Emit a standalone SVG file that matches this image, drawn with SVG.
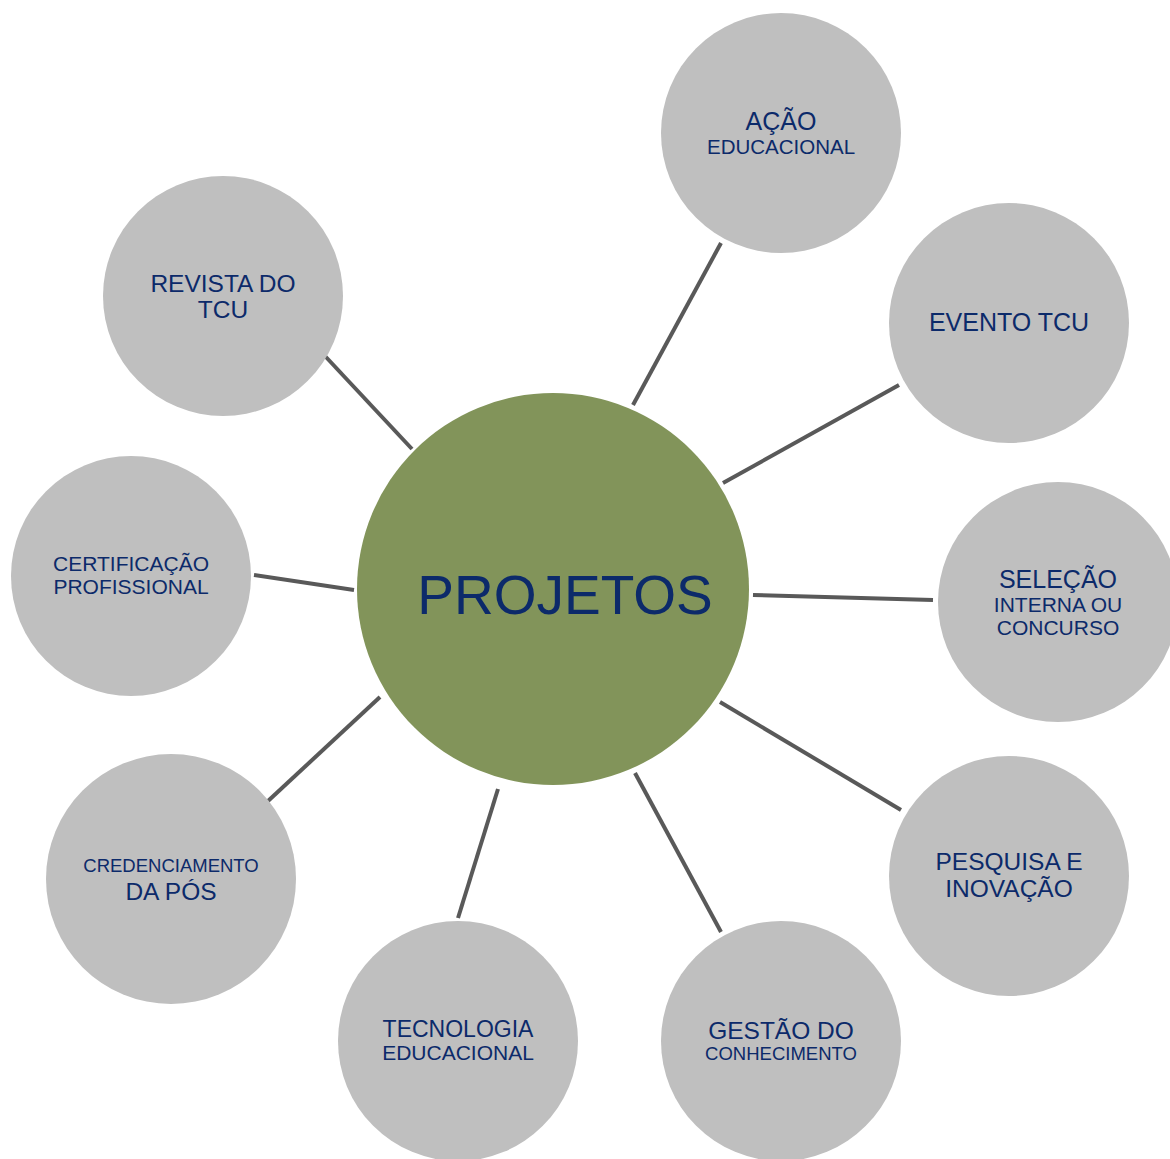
<svg xmlns="http://www.w3.org/2000/svg" width="1170" height="1159" viewBox="0 0 1170 1159">
<style>
.sat{fill:#bfbfbf}
.hub{fill:#82945a}
.t{font-family:"Liberation Sans",Arial,sans-serif;fill:#0c2a6a;text-anchor:middle}
.c line{stroke:#595959;stroke-width:4}
</style>
<rect width="1170" height="1159" fill="#ffffff"/>
<g class="c" id="connectors">
<line x1="633" y1="405" x2="721" y2="243"/>
<line x1="723" y1="483" x2="899" y2="385"/>
<line x1="753" y1="595" x2="933" y2="600"/>
<line x1="720" y1="702" x2="901" y2="810"/>
<line x1="635" y1="773" x2="721" y2="932"/>
<line x1="498" y1="789" x2="458" y2="918"/>
<line x1="380" y1="697" x2="268" y2="801"/>
<line x1="354" y1="590" x2="254" y2="575"/>
<line x1="412" y1="449" x2="325" y2="356"/>
</g>
<g id="projetos">
<circle class="hub" cx="553" cy="589" r="196"/>
<text class="t" x="565" y="614" font-size="55">PROJETOS</text>
</g>
<g id="acao">
<circle class="sat" cx="781" cy="133" r="120"/>
<text class="t" x="781" y="130" font-size="25">AÇÃO</text>
<text class="t" x="781" y="154" font-size="20.5">EDUCACIONAL</text>
</g>
<g id="evento">
<circle class="sat" cx="1009" cy="323" r="120"/>
<text class="t" x="1009" y="331" font-size="25">EVENTO TCU</text>
</g>
<g id="selecao">
<circle class="sat" cx="1058" cy="602" r="120"/>
<text class="t" x="1058" y="588" font-size="25">SELEÇÃO</text>
<text class="t" x="1058" y="612" font-size="21">INTERNA OU</text>
<text class="t" x="1058" y="635" font-size="21">CONCURSO</text>
</g>
<g id="pesquisa">
<circle class="sat" cx="1009" cy="876" r="120"/>
<text class="t" x="1009" y="870" font-size="24.5">PESQUISA E</text>
<text class="t" x="1009" y="897" font-size="24.5">INOVAÇÃO</text>
</g>
<g id="gestao">
<circle class="sat" cx="781" cy="1041" r="120"/>
<text class="t" x="781" y="1039" font-size="24.5">GESTÃO DO</text>
<text class="t" x="781" y="1060" font-size="18.5">CONHECIMENTO</text>
</g>
<g id="tecnologia">
<circle class="sat" cx="458" cy="1041" r="120"/>
<text class="t" x="458" y="1037" font-size="23">TECNOLOGIA</text>
<text class="t" x="458" y="1060" font-size="21">EDUCACIONAL</text>
</g>
<g id="credenciamento">
<circle class="sat" cx="171" cy="879" r="125"/>
<text class="t" x="171" y="872" font-size="18.5">CREDENCIAMENTO</text>
<text class="t" x="171" y="900" font-size="24.5">DA PÓS</text>
</g>
<g id="certificacao">
<circle class="sat" cx="131" cy="576" r="120"/>
<text class="t" x="131" y="571" font-size="21">CERTIFICAÇÃO</text>
<text class="t" x="131" y="594" font-size="21">PROFISSIONAL</text>
</g>
<g id="revista">
<circle class="sat" cx="223" cy="296" r="120"/>
<text class="t" x="223" y="292" font-size="24.5">REVISTA DO</text>
<text class="t" x="223" y="318" font-size="24.5">TCU</text>
</g>
</svg>
